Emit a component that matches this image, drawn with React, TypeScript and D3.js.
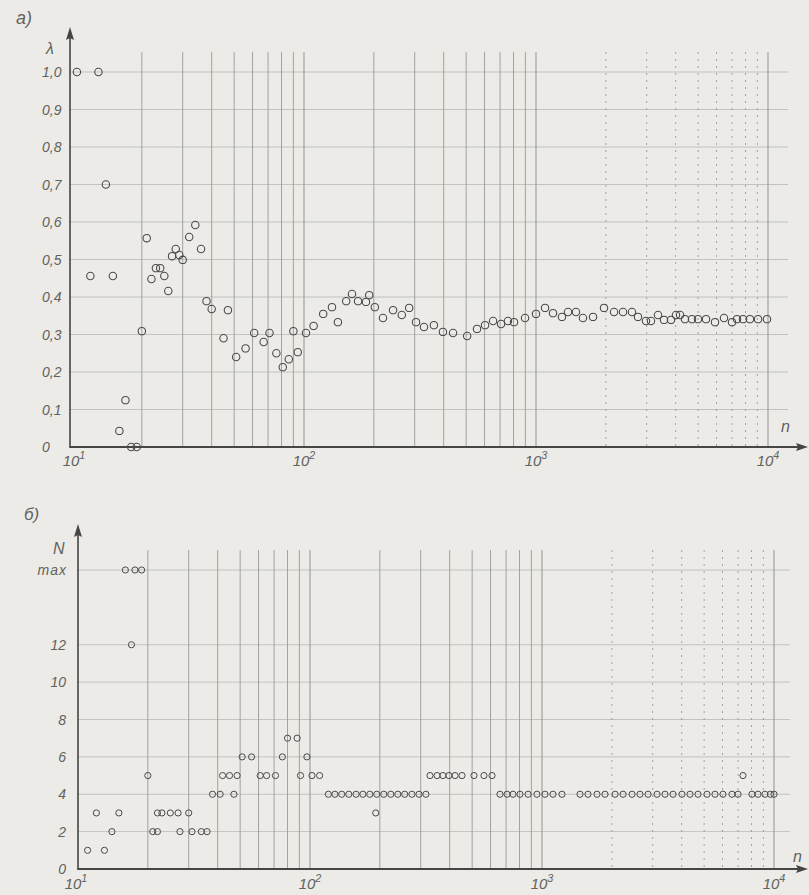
import React from "react";
import * as d3 from "d3";

// ---- Panel a): lambda vs n ----
const lamN = [10.5, 13, 14, 12, 15, 16, 17, 18, 19, 20, 21, 22, 23, 24, 25, 26, 27, 28, 29, 30, 32, 34, 36, 38, 40, 45, 47, 51, 56, 61, 67, 71, 76, 81, 86, 90, 94, 102, 110, 121, 132, 140, 152, 161, 171, 185, 191, 202, 219, 242, 264, 284, 304, 329, 363, 397, 439, 505, 557, 603, 653, 707, 757, 804, 897, 1000, 1094, 1184, 1294, 1374, 1487, 1594, 1761, 1964, 2170, 2372, 2592, 2752, 2979, 3131, 3357, 3563, 3818, 4012, 4178, 4387, 4703, 4991, 5407, 5910, 6461, 6996, 7352, 7805, 8360, 9060, 9900];
const lamV = [1.0, 1.0, 0.70, 0.456, 0.456, 0.043, 0.125, 0, 0, 0.309, 0.557, 0.448, 0.477, 0.477, 0.456, 0.416, 0.509, 0.528, 0.512, 0.499, 0.56, 0.592, 0.528, 0.389, 0.368, 0.29, 0.365, 0.24, 0.263, 0.304, 0.28, 0.304, 0.25, 0.213, 0.234, 0.309, 0.253, 0.304, 0.323, 0.355, 0.373, 0.333, 0.389, 0.408, 0.389, 0.387, 0.405, 0.373, 0.344, 0.365, 0.352, 0.371, 0.333, 0.32, 0.325, 0.307, 0.304, 0.296, 0.315, 0.325, 0.336, 0.328, 0.336, 0.333, 0.344, 0.355, 0.371, 0.357, 0.347, 0.36, 0.36, 0.344, 0.347, 0.371, 0.36, 0.36, 0.36, 0.347, 0.336, 0.336, 0.352, 0.339, 0.339, 0.352, 0.352, 0.341, 0.341, 0.341, 0.341, 0.333, 0.344, 0.333, 0.341, 0.341, 0.341, 0.341, 0.341];
const lamTicks = [0, 0.1, 0.2, 0.3, 0.4, 0.5, 0.6, 0.7, 0.8, 0.9, 1.0];

// ---- Panel b): N vs n ----
const cntN = [11, 13, 12, 15, 14, 16, 17.6, 18.8, 17, 20, 21, 22, 22, 23, 25, 27, 30, 27.5, 31, 34, 36, 38, 41, 47, 42, 45, 48.5, 51, 56, 61, 65, 71, 76, 80, 88, 97, 91, 102, 110,
  120, 128, 137, 147, 158, 169, 181, 194, 208, 223, 239, 256, 275, 295, 316, 192,
  329, 353, 374, 397, 422, 452, 509, 562, 609,
  659, 707, 750, 804, 871, 951, 1030, 1115, 1219, 1458, 1578, 1726, 1869, 2066, 2236, 2445, 2645, 2865, 3133, 3390, 3671, 4012, 4343, 4703, 5142, 5566, 6026, 6590, 6998, 8035, 8531, 9141, 9650, 10000, 7350];
const cntV = [1, 1, 3, 3, 2, 16, 16, 16, 12, 5, 2, 2, 3, 3, 3, 3, 3, 2, 2, 2, 2, 4, 4, 4, 5, 5, 5, 6, 6, 5, 5, 5, 6, 7, 7, 6, 5, 5, 5,
  4, 4, 4, 4, 4, 4, 4, 4, 4, 4, 4, 4, 4, 4, 4, 3,
  5, 5, 5, 5, 5, 5, 5, 5, 5,
  4, 4, 4, 4, 4, 4, 4, 4, 4, 4, 4, 4, 4, 4, 4, 4, 4, 4, 4, 4, 4, 4, 4, 4, 4, 4, 4, 4, 4, 4, 4, 4, 4, 4, 5];
const cntTicks = [0, 2, 4, 6, 8, 10, 12];
const cntMax = 16;

const gridN = [20, 30, 40, 50, 60, 70, 80, 90, 100, 200, 300, 400, 500, 600, 700, 800, 900, 1000, 2000, 3000, 4000, 5000, 6000, 7000, 8000, 9000, 10000];
const decades = [1, 2, 3, 4];

const FONT = "'Liberation Sans', 'DejaVu Sans', sans-serif";
const TXT = "#62625e";
const GRID = "#9a9a96";
const AX = "#454543";

function Decade({ x, y, e, size }: { x: number; y: number; e: number; size: number }) {
  return (
    <text x={x} y={y} textAnchor="middle" fontFamily={FONT} fontStyle="italic" fontSize={size} fill={TXT}>
      10<tspan dy={-size * 0.45} fontSize={size * 0.72}>{e}</tspan>
    </text>
  );
}

export default function App() {
  const W = 809, H = 895;
  const xa = d3.scaleLog().domain([10, 10000]).range([72, 768]);
  const ya = d3.scaleLinear().domain([0, 1]).range([447, 72]);
  const xb = d3.scaleLog().domain([10, 10000]).range([78, 774]);
  const yb = d3.scaleLinear().domain([0, cntMax]).range([869, 570]);

  const fmt = (v: number) => (v === 0 ? "0" : v.toFixed(1).replace(".", ","));

  return (
    <svg width={W} height={H} style={{ position: "absolute", left: 0, top: 0, background: "#ecebe7" }}>
      <rect x={0} y={0} width={W} height={H} fill="#ecebe7" />
      {/* ===== Panel a ===== */}
      <g>
        {lamTicks.filter((t) => t > 0).map((t) => (
          <line key={"ha" + t} x1={70} x2={788} y1={ya(t)} y2={ya(t)} stroke={GRID} strokeWidth={0.7} opacity={0.7} />
        ))}
        {gridN.map((n) => (
          <line key={"va" + n} x1={xa(n)} x2={xa(n)} y1={52} y2={447} stroke={GRID} strokeWidth={n === 100 || n === 1000 || n === 10000 ? 1.1 : 0.9}
            strokeDasharray={n > 1000 && n < 10000 ? "2,5" : undefined} />
        ))}
        <line x1={70} x2={800} y1={447} y2={447} stroke={AX} strokeWidth={1.8} />
        <path d="M808,447 L796,443 L798,447 L796,451 Z" fill={AX} />
        <line x1={70} x2={70} y1={448} y2={36} stroke={AX} strokeWidth={1.6} />
        <path d="M70,27 L66,40 L70,38 L74,40 Z" fill={AX} />
        {lamTicks.map((t) => (
          <text key={"la" + t} x={42} y={ya(t) + 5} fontFamily={FONT} fontStyle="italic" fontSize={14} fill={TXT}>{fmt(t)}</text>
        ))}
        <text x={46} y={54} fontFamily={FONT} fontStyle="italic" fontSize={16} fill={TXT}>λ</text>
        <text x={16} y={24} fontFamily={FONT} fontStyle="italic" fontSize={18} fill={TXT}>a)</text>
        <text x={781} y={432} fontFamily={FONT} fontStyle="italic" fontSize={16} fill={TXT}>n</text>
        {decades.map((e) => (
          <Decade key={"da" + e} x={xa(Math.pow(10, e)) + (e === 1 ? 2 : 0)} y={466} e={e} size={15} />
        ))}
        {lamN.map((n, i) => (
          <circle key={"pa" + i} cx={xa(n)} cy={ya(lamV[i])} r={3.7} fill="none" stroke="#4a4a48" strokeWidth={1.1} />
        ))}
      </g>

      {/* ===== Panel b ===== */}
      <g>
        {[...cntTicks.filter((t) => t > 0), cntMax].map((t) => (
          <line key={"hb" + t} x1={78} x2={790} y1={yb(t)} y2={yb(t)} stroke={GRID} strokeWidth={0.7} opacity={0.7} />
        ))}
        {gridN.map((n) => (
          <line key={"vb" + n} x1={xb(n)} x2={xb(n)} y1={550} y2={869} stroke={GRID} strokeWidth={n === 100 || n === 1000 || n === 10000 ? 1.1 : 0.9}
            strokeDasharray={n > 1000 && n < 10000 ? "2,5" : undefined} />
        ))}
        <line x1={78} x2={800} y1={869} y2={869} stroke={AX} strokeWidth={1.8} />
        <path d="M808,869 L796,865 L798,869 L796,873 Z" fill={AX} />
        <line x1={78} x2={78} y1={870} y2={533} stroke={AX} strokeWidth={1.6} />
        <path d="M78,524 L74,537 L78,535 L82,537 Z" fill={AX} />
        {cntTicks.map((t) => (
          <text key={"lb" + t} x={66} y={yb(t) + 5} textAnchor="end" fontFamily={FONT} fontStyle="italic" fontSize={14} fill={TXT}>{t}</text>
        ))}
        <text x={67} y={yb(cntMax) + 5} textAnchor="end" fontFamily={FONT} fontStyle="italic" fontSize={14} fill={TXT} letterSpacing={1}>max</text>
        <text x={53} y={554} fontFamily={FONT} fontStyle="italic" fontSize={16} fill={TXT}>N</text>
        <text x={24} y={520} fontFamily={FONT} fontStyle="italic" fontSize={17} fill={TXT}>б)</text>
        <text x={793} y={862} fontFamily={FONT} fontStyle="italic" fontSize={16} fill={TXT}>n</text>
        {decades.map((e) => (
          <Decade key={"db" + e} x={xb(Math.pow(10, e)) - (e === 1 ? 2 : 0)} y={889} e={e} size={15} />
        ))}
        {cntN.map((n, i) => (
          <circle key={"pb" + i} cx={xb(n)} cy={yb(cntV[i])} r={3.1} fill="none" stroke="#4a4a48" strokeWidth={1} />
        ))}
      </g>
    </svg>
  );
}
